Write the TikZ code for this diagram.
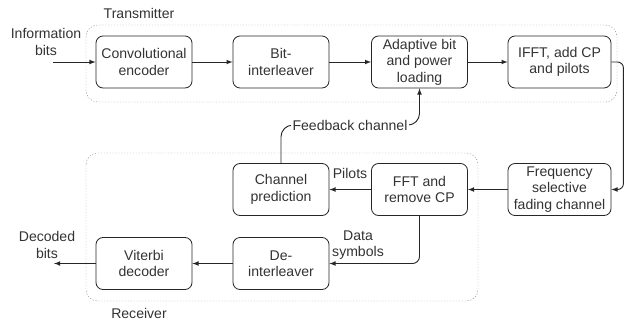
\documentclass[tikz,border=0pt]{standalone}
\usepackage{fontspec}
\setmainfont{Liberation Sans}
\usepackage{tikz}

\begin{document}
\begin{tikzpicture}[x=0.03cm, y=-0.03cm]
			\tikzstyle{block} = [draw=black!85, line width=0.7pt, rounded corners=6pt, minimum width=2.88cm, minimum height=1.56cm, align=center, inner sep=1pt, text=black!80, font=\fontsize{12}{14}\selectfont]
			\tikzstyle{note} = [align=center, inner sep=1pt, text=black!80, font=\fontsize{12}{14}\selectfont]
			\tikzstyle{area} = [draw=black!45, dash pattern=on 1pt off 1.5pt, rounded corners=10pt]
			\tikzset{link/.style = {->, >=latex, line width=0.8pt, draw=black!85}}
			
			\useasboundingbox (0,0) rectangle (625,325);
			
			% transmitter and receiver
			\draw[area] (86,25) rectangle (617,102);
			\draw[area] (86,153) rectangle (478,301);
			\node[note](txname) at (139,13) {Transmitter};
			\node[note](rxname) at (139,313) {Receiver};
			
			\node[block](encoder) at (144,62) {Convolutional\\encoder};
			\node[block](interleaver) at (281,62) {Bit-\\interleaver};
			\node[block](loading) at (419.5,62) {Adaptive bit\\and power\\loading};
			\node[block, minimum width=3.09cm](ifft) at (559.5,62) {IFFT, add CP\\and pilots};
			
			\node[block, minimum width=3.09cm](fading) at (559.5,189.5) {Frequency\\selective\\fading channel};
			\node[block](fft) at (419.5,189.5) {FFT and\\remove CP};
			\node[block](prediction) at (281,189.5) {Channel\\prediction};
			\node[block](deinterleaver) at (281,263.5) {De-\\interleaver};
			\node[block](viterbi) at (144,263.5) {Viterbi\\decoder};
			
			\node[note](infobits) at (46,42) {Information\\bits};
			\coordinate (infoin) at (53,62);
			\node[note](decbits) at (47,245) {Decoded\\bits};
			\coordinate (decout) at (54,263.5);
			
			\draw[link](infoin) to (encoder);
			\draw[link](encoder) to (interleaver);
			\draw[link](interleaver) to (loading);
			\draw[link](loading) to (ifft);
			\draw[link, rounded corners=5pt](ifft.east) -- ++(12,0) |- (fading.east);
			\draw[link](fading) to (fft);
			\draw[link](fft) to (prediction);
			\draw[link, rounded corners=6pt](fft.south) |- (deinterleaver.east);
			\draw[link](deinterleaver) to (viterbi);
			\draw[link](viterbi) to (decout);
			
			% feedback path
			\draw[link, rounded corners=10pt](prediction.north) -- ++(0,-38) -| (loading.south);
			\node[note, fill=white](feedback) at (350,125) {Feedback channel};
			
			\node[note](pilots) at (350,173) {Pilots};
			\node[note](datasym) at (358,245) {Data\\symbols};
			
\end{tikzpicture}
\end{document}
